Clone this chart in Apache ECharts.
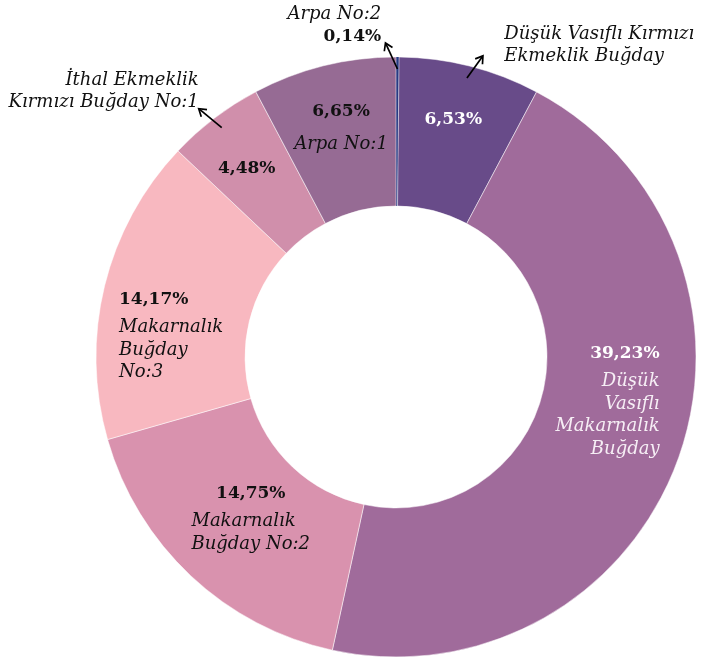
<!DOCTYPE html>
<html>
<head>
<meta charset="utf-8">
<script src="https://cdn.jsdelivr.net/npm/echarts@6/dist/echarts.min.js"></script>
<style>
  html, body { margin: 0; padding: 0; background: #fff; }
  #chart { width: 707px; height: 660px; }
</style>
</head>
<body>
<div id="chart"></div>
<script>
const categories = [
  "Arpa No:2",
  "Düşük Vasıflı Kırmızı Ekmeklik Buğday",
  "Düşük Vasıflı Makarnalık Buğday",
  "Makarnalık Buğday No:2",
  "Makarnalık Buğday No:3",
  "İthal Ekmeklik Kırmızı Buğday No:1",
  "Arpa No:1"
];
const shares = [0.14, 6.53, 39.23, 14.75, 14.17, 4.48, 6.65];
const labelLines = [
  ["Arpa No:2"],
  ["Düşük Vasıflı Kırmızı", "Ekmeklik Buğday"],
  ["Düşük", "Vasıflı", "Makarnalık", "Buğday"],
  ["Makarnalık", "Buğday No:2"],
  ["Makarnalık", "Buğday", "No:3"],
  ["İthal Ekmeklik", "Kırmızı Buğday No:1"],
  ["Arpa No:1"]
];
const colors = ["#283a82", "#684b89", "#a06b9b", "#d992ae", "#f8b8c0", "#d08fab", "#966b94"];

// how each slice is labelled: inside text (pct + name), outside name with arrow
const inside = [
  null,
  { name: false, dx: 1, dy: -16, align: "center", pct: "w" },
  { name: true, dx: 49, dy: -34, align: "right", pct: "w" },
  { name: true, dx: 11, dy: -5, align: "center", pctAlign: "center", nameAlign: "left", pct: "b" },
  { name: true, dx: -55, dy: 33, align: "left", pct: "b" },
  { name: false, dx: -11, dy: -7, align: "center", pct: "b" },
  { name: true, dx: 0, dy: -7, align: "center", pctAlign: "center", gap: 10, pct: "b" }
];
const outside = [
  { pct: true, dx: -16, dy: -103, align: "right", arrow: [-12, -26] },
  { pct: false, dx: 52, dy: -90, align: "left", arrow: [16, -22] },
  null, null, null,
  { pct: false, dx: -59, dy: -84, align: "right", arrow: [-23, -19] },
  null
];

const cx = 396, cy = 357, r0 = 151, r1 = 300;
const fmt = v => v.toFixed(2).replace(".", ",") + "%";
const total = shares.reduce((a, b) => a + b, 0);

const serif = "DejaVu Serif";
const rich = {
  b: { fontFamily: serif, fontWeight: "bold", fontSize: 17, color: "#111", lineHeight: 22 },
  w: { fontFamily: serif, fontWeight: "bold", fontSize: 17, color: "#fff", lineHeight: 22 },
  bc: { fontFamily: serif, fontWeight: "bold", fontSize: 17, color: "#111", lineHeight: 22, align: "center" },
  n: { fontFamily: serif, fontStyle: "italic", fontSize: 18, color: "#111", lineHeight: 22.5 },
  nl: { fontFamily: serif, fontStyle: "italic", fontSize: 18, color: "#111", lineHeight: 22.5, align: "left" },
  nw: { fontFamily: serif, fontStyle: "italic", fontSize: 18, color: "#f6eef5", lineHeight: 22.5 },
  g: { fontSize: 1, lineHeight: 6 },
  g10: { fontSize: 1, lineHeight: 10 }
};

function insideText(i) {
  const c = inside[i];
  if (!c) return "";
  const pStyle = c.pct === "w" ? "w" : (c.pctAlign === "center" ? "bc" : "b");
  let s = "{" + pStyle + "|" + fmt(shares[i]) + "}";
  if (c.name) {
    const ns = c.pct === "w" ? "nw" : (c.nameAlign === "left" ? "nl" : "n");
    s += "\n{" + (c.gap ? "g10" : "g") + "| }\n" + labelLines[i].map(l => "{" + ns + "|" + l + "}").join("\n");
  }
  return s;
}
function outsideText(i) {
  const c = outside[i];
  if (!c) return "";
  let s = labelLines[i].map(l => "{n|" + l + "}").join("\n");
  if (c.pct) s += "\n{b|" + fmt(shares[i]) + "}";
  return s;
}

// arrows: tail sits on the slice's middle angle near the outer edge
const graphics = [];
let acc = 0;
shares.forEach((v, i) => {
  const mid = (acc + v / 2) / total * 2 * Math.PI;
  acc += v;
  const c = outside[i];
  if (!c) return;
  const tx = cx + 288 * Math.sin(mid), ty = cy - 288 * Math.cos(mid);
  const hx = tx + c.arrow[0], hy = ty + c.arrow[1];
  const len = Math.hypot(c.arrow[0], c.arrow[1]);
  const ux = c.arrow[0] / len, uy = c.arrow[1] / len;
  const hl = 7, hw = 4.5;
  graphics.push({
    type: "line", silent: true, z: 100,
    shape: { x1: tx, y1: ty, x2: hx - ux * 0.8, y2: hy - uy * 0.8 },
    style: { stroke: "#000", lineWidth: 1.7 }
  });
  graphics.push({
    type: "polyline", silent: true, z: 100,
    shape: { points: [
      [hx - ux * hl - uy * hw, hy - uy * hl + ux * hw],
      [hx, hy],
      [hx - ux * hl + uy * hw, hy - uy * hl - ux * hw]
    ] },
    style: { stroke: "#000", lineWidth: 1.7, fill: null, lineJoin: "miter" }
  });
});

const data = categories.map((name, i) => ({
  name,
  value: shares[i],
  itemStyle: { color: colors[i], borderWidth: i === 0 ? 0 : 0.5 }
}));

const chart = echarts.init(document.getElementById("chart"), null, { renderer: "canvas" });
chart.setOption({
  animation: false,
  series: [
    {
      type: "pie",
      center: [cx, cy],
      radius: [r0, r1],
      startAngle: 90,
      clockwise: true,
      silent: true,
      emphasis: { disabled: true },
      itemStyle: { borderColor: "#fff", borderWidth: 0.5 },
      label: {
        show: true,
        position: "inside",
        formatter: p => insideText(p.dataIndex),
        rich
      },
      labelLine: { show: false },
      labelLayout: p => {
        const c = inside[p.dataIndex];
        return c ? { dx: c.dx, dy: c.dy, align: c.align } : {};
      },
      data
    },
    {
      type: "pie",
      center: [cx, cy],
      radius: [r0, r1],
      startAngle: 90,
      clockwise: true,
      silent: true,
      z: 3,
      emphasis: { disabled: true },
      itemStyle: { color: "rgba(0,0,0,0)", borderWidth: 0 },
      label: {
        show: true,
        position: "inside",
        formatter: p => outsideText(p.dataIndex),
        rich
      },
      labelLine: { show: false },
      labelLayout: p => {
        const c = outside[p.dataIndex];
        return c ? { dx: c.dx, dy: c.dy, align: c.align } : {};
      },
      data: categories.map((name, i) => ({ name, value: shares[i] }))
    }
  ],
  graphic: graphics
});
</script>
</body>
</html>
